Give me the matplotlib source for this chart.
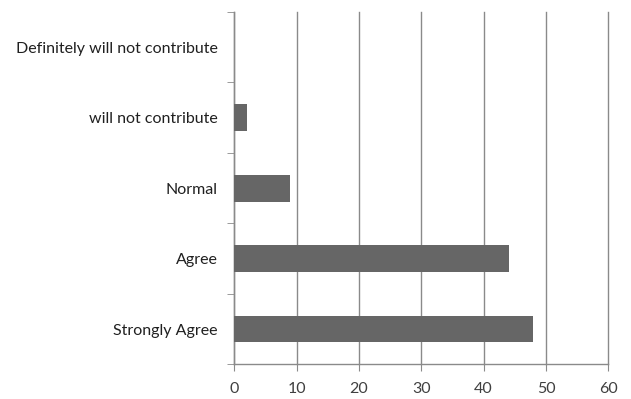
import matplotlib.pyplot as plt
import numpy as np

categories = ['Strongly Agree', 'Agree', 'Normal', 'will not contribute',
              'Definitely will not contribute']
counts = [48, 44, 9, 2, 0]
xticks = [0, 10, 20, 30, 40, 50, 60]

plt.rcParams['font.family'] = ['Lato', 'DejaVu Sans']

fig = plt.figure(figsize=(6.31, 3.99), dpi=100)
ax = fig.add_axes([0.3713, 0.087, 0.5927, 0.883])

y = np.arange(len(categories))
ax.barh(y, counts, height=0.38, color='#666666', linewidth=0, zorder=3)

ax.set_xlim(0, 60)
ax.set_ylim(-0.5, len(categories) - 0.5)
ax.set_xticks(xticks)
ax.set_xticklabels([str(t) for t in xticks], fontsize=11.5, color='#404040')
ax.set_yticks(y)
ax.set_yticklabels(categories, fontsize=11.5, color='#202020')
ax.set_yticks(np.arange(-0.5, len(categories)), minor=True)

ax.grid(axis='x', color='#8a8a8a', linewidth=1.0, zorder=0)
for line in ax.get_xgridlines():
    line.set_clip_on(False)
for s in ['top', 'right']:
    ax.spines[s].set_visible(False)
for s in ['left', 'bottom']:
    ax.spines[s].set_color('#8a8a8a')
    ax.spines[s].set_linewidth(1.0)

ax.tick_params(axis='y', which='major', length=0, pad=12)
ax.tick_params(axis='y', which='minor', length=5, color='#8a8a8a')
ax.tick_params(axis='x', length=5, color='#8a8a8a', pad=8)

fig.savefig('out.png', dpi=100)
